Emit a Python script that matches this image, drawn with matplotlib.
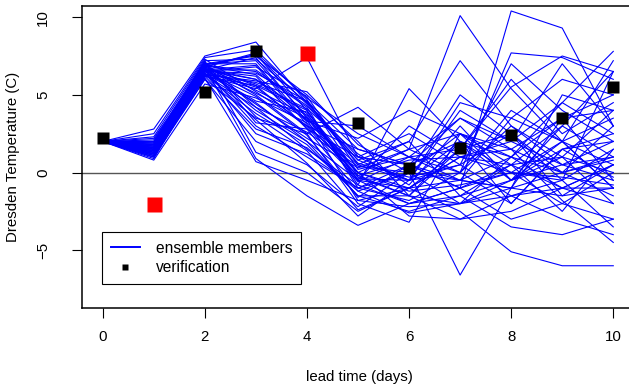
import matplotlib
matplotlib.use('Agg')
import matplotlib.pyplot as plt
from matplotlib.lines import Line2D

plt.rcParams['font.family'] = ['Liberation Sans', 'DejaVu Sans']

# lead times and verifying observations
lead_days = [0, 1, 2, 3, 4, 5, 6, 7, 8, 9, 10]
verification = [2.2, -2.0, 5.2, 7.8, 7.7, 3.2, 0.3, 1.6, 2.4, 3.5, 5.5]
flagged_days = [1, 4]  # shown in red

# ensemble members, one row per member (values per lead day)
members = [
    [2.0, 2.8, 7.5, 8.4, 4.5, 1.0, 0.5, 2.0, -0.5, 1.5, 2.0],
    [2.0, 1.5, 6.8, 7.6, 4.0, -0.5, -1.0, 1.0, 0.5, 3.0, 6.5],
    [2.0, 1.2, 6.6, 7.4, 3.5, 0.0, 1.5, 10.1, 5.4, 2.0, -1.0],
    [2.0, 1.8, 7.0, 7.5, 5.0, 2.0, -1.5, -2.0, 1.0, 4.5, 7.8],
    [2.0, 1.0, 6.2, 5.4, 7.4, 1.0, -0.5, 0.5, 2.5, -1.5, 0.5],
    [2.0, 2.2, 6.9, 6.5, 4.2, -1.0, 0.0, -6.6, -1.0, 0.0, 1.0],
    [2.0, 1.6, 6.7, 6.0, 3.8, -0.5, -2.0, -1.0, 10.4, 9.3, 3.0],
    [2.0, 0.9, 6.3, 5.8, 4.6, 0.5, 2.0, 7.2, 3.0, 0.5, -0.5],
    [2.0, 1.4, 6.5, 5.5, 3.0, 0.0, -1.0, -2.5, -5.1, -6.0, -6.0],
    [2.0, 1.3, 6.4, 4.5, 2.0, -1.5, -2.5, -1.5, -3.5, -4.0, -3.0],
    [2.0, 1.7, 6.9, 5.0, 2.5, 4.2, 1.5, 0.0, 7.7, 7.4, 6.0],
    [2.0, 2.0, 7.1, 4.2, 1.5, -0.8, 5.4, 2.0, 0.0, -0.5, 1.5],
    [2.0, 1.1, 6.0, 3.5, 2.5, -2.0, -3.2, 2.5, 1.5, 3.5, 4.0],
    [2.0, 1.5, 6.6, 3.0, 1.0, -1.0, 0.5, 3.5, 2.0, 7.0, 3.0],
    [2.0, 1.9, 7.2, 1.3, 0.0, -2.5, -1.0, -0.5, 1.0, -1.0, -1.0],
    [2.0, 1.2, 6.1, 0.7, -0.5, -1.8, -2.2, -2.0, -1.5, -3.0, -4.0],
    [2.0, 1.6, 6.8, 0.9, -1.5, -3.4, -2.0, -1.0, 0.5, 1.0, 0.0],
    [2.0, 0.8, 5.7, 4.8, 3.2, 0.5, -0.5, 4.5, 3.5, 6.0, 5.0],
    [2.0, 1.3, 6.5, 6.8, 4.9, 0.2, 1.0, 1.5, 6.0, 2.5, 4.5],
    [2.0, 1.8, 7.0, 7.2, 3.6, -0.3, -1.5, 2.0, -2.0, 1.5, 2.5],
    [2.0, 1.4, 6.6, 6.2, 2.8, -1.2, 0.0, 5.0, 2.5, -0.5, 6.5],
    [2.0, 2.3, 7.3, 5.2, 3.0, 1.5, 0.5, -1.0, 0.0, 2.0, 0.5],
    [2.0, 1.0, 6.3, 3.8, 1.8, -1.5, -1.5, -3.0, -2.5, -1.0, -2.0],
    [2.0, 1.7, 6.7, 4.0, 2.0, -0.5, 3.0, 1.0, 2.0, 4.5, 2.5],
    [2.0, 1.5, 6.6, 6.6, 4.3, 0.8, -0.5, 0.0, 4.0, 2.0, -1.0],
    [2.0, 1.2, 6.2, 5.6, 4.0, -0.8, -2.0, -1.5, 0.5, -2.5, 1.5],
    [2.0, 2.0, 7.0, 7.0, 3.3, 3.0, 1.0, 3.5, 1.5, 0.0, 3.0],
    [2.0, 1.6, 6.8, 7.7, 4.8, 2.5, 1.0, -0.5, -1.0, 5.0, 4.0],
    [2.0, 1.1, 6.4, 2.5, 1.2, -1.0, -1.8, 0.0, 3.0, 1.0, -2.0],
    [2.0, 1.9, 7.1, 3.2, 2.8, 1.0, 2.5, 0.5, -1.5, -0.5, -3.5],
    [2.0, 1.4, 6.5, 4.6, 3.9, 0.0, -2.8, -3.0, -1.5, -1.0, 0.5],
    [2.0, 1.3, 6.3, 5.9, 5.2, 1.8, 0.0, 2.5, 1.0, 3.5, -0.5],
    [2.0, 1.8, 6.9, 6.3, 3.4, -1.8, -1.0, 1.5, 5.5, 7.5, 6.5],
    [2.0, 1.0, 6.0, 2.0, 0.5, -2.2, 0.0, -0.5, -1.0, -1.5, -1.0],
    [2.0, 1.5, 6.7, 4.4, 2.2, 0.3, 1.5, 2.5, -0.5, 1.0, 4.0],
    [2.0, 1.7, 6.8, 5.3, 3.7, 0.0, -1.2, -0.8, 0.0, -0.3, -0.8],
    [2.0, 1.2, 6.4, 3.4, 0.6, -2.8, -0.5, 4.0, 2.0, 0.5, 2.0],
    [2.0, 2.1, 7.2, 7.3, 4.5, 0.8, 2.0, -1.5, -0.5, 0.5, 1.0],
    [2.0, 1.4, 6.6, 6.9, 3.1, -0.2, 0.8, 1.0, 1.5, -1.8, -4.5],
    [2.0, 1.6, 6.7, 5.7, 4.1, 1.2, -0.8, 3.0, -0.5, 2.0, 7.2],
    [2.0, 1.3, 6.5, 4.9, 2.4, -1.6, 0.5, -1.0, -3.0, -2.0, 0.0],
    [2.0, 1.8, 6.9, 7.6, 4.4, 0.6, -0.3, 0.5, 7.0, 4.0, 2.0],
    [2.0, 1.1, 6.2, 2.8, 1.6, -1.2, -2.6, -2.0, -0.5, 3.0, 1.0],
    [2.0, 1.5, 6.6, 6.0, 3.3, 2.2, 4.0, 2.5, 0.5, -1.0, 0.5],
    [2.0, 2.5, 7.4, 7.9, 4.7, -0.2, -1.5, 1.5, 2.5, 0.0, -1.5],
    [2.0, 1.2, 6.3, 4.2, 2.6, 0.4, 0.0, -2.0, -1.0, 3.5, 5.0],
    [2.0, 1.6, 6.7, 5.1, 3.5, -0.6, 1.0, 0.0, -2.0, 1.5, -0.3],
    [2.0, 1.9, 7.0, 3.6, 1.4, -2.4, -1.0, 1.0, 0.0, -2.0, -3.0],
    [2.0, 1.4, 6.5, 6.4, 4.6, 1.5, 0.5, -0.5, 3.5, 2.0, 3.5],
    [2.0, 1.7, 6.8, 5.6, 2.9, -0.4, -0.5, 2.0, 1.0, 0.0, 0.8],
]

W, H = 629, 390
fig = plt.figure(figsize=(W / 100, H / 100), dpi=100)
# plot box in pixels: left 82.3, right 633.7 (cropped), top 6, bottom 308
ax = fig.add_axes([82.3 / W, (H - 308) / H, (633.7 - 82.3) / W, (308 - 6) / H])

for m in members:
    ax.plot(lead_days, m, color='#0000ff', lw=0.8, zorder=2)

ax.axhline(0, color='#555555', lw=1.0, zorder=1)

for d, v in zip(lead_days, verification):
    if d in flagged_days:
        ax.plot(d, v, 's', color='red', ms=10.8, mec='none', zorder=4)
    else:
        ax.plot(d, v, 's', color='black', ms=8, mec='none', zorder=4)

ax.set_xlim(-0.4, 10.4)
ax.set_ylim(-8.72, 10.72)
ax.set_xticks([0, 2, 4, 6, 8, 10])
ax.set_yticks([-5, 0, 5, 10])
ax.set_yticklabels(['\u22125', '0', '5', '10'], rotation=90, va='center')
ax.tick_params(direction='out', length=7, width=0.8, labelsize=10.8)
ax.tick_params(axis='x', pad=9)
ax.tick_params(axis='y', pad=16)
for s in ax.spines.values():
    s.set_linewidth(1.1)

fig.text(359 / W, 1 - 377 / H, 'lead time (days)', ha='center', va='center', fontsize=10.8)
fig.text(13 / W, 1 - 157 / H, 'Dresden Temperature (C)', ha='center', va='center',
         rotation=90, fontsize=10.8)

handles = [
    Line2D([], [], color='#0000ff', lw=1.4),
    Line2D([], [], color='black', marker='s', ls='none', ms=5, mec='none'),
]
leg = ax.legend(handles, ['ensemble members', 'verification'],
                loc='upper left', bbox_to_anchor=(0.0357, 0.2517),
                borderaxespad=0, fancybox=False, edgecolor='black',
                framealpha=1, fontsize=11.2, handlelength=1.9,
                labelspacing=0.3, borderpad=0.55, handletextpad=1.0)
leg.get_frame().set_linewidth(0.8)

fig.savefig('out.png', dpi=100)
